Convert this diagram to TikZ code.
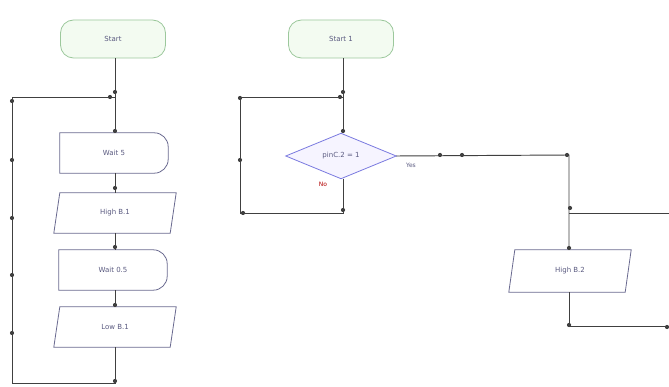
\documentclass[tikz,border=0pt]{standalone}
\usepackage{fontspec}
\setmainfont{DejaVu Sans}
\begin{document}
\begin{tikzpicture}[x=1pt,y=-1pt,
  txt/.style={font=\fontsize{7}{8}\selectfont, text=textc},
  box/.style={draw=none, minimum width=#1, minimum height=40pt, inner sep=0pt, txt},
  box/.default=108pt,
  outl/.style={draw=boxc, line width=0.8pt, fill=white},
  termst/.style={draw=termc, fill=termf, line width=0.8pt, rounded corners=13pt, minimum width=105pt, minimum height=38pt, inner sep=0pt, txt},
  wire/.style={draw=wirec, line width=0.95pt},
  dot/.style={circle, fill=wirec, inner sep=0pt, minimum size=4.2pt},
  lbl/.style={font=\fontsize{6}{7}\selectfont}
]
\definecolor{textc}{HTML}{5A5A80}
\definecolor{boxc}{HTML}{6A6A90}
\definecolor{termc}{HTML}{9CC89C}
\definecolor{termf}{HTML}{F3FBF1}
\definecolor{wirec}{HTML}{404040}
\definecolor{diac}{HTML}{7A7AE0}
\definecolor{diaf}{HTML}{F6F4FF}
\useasboundingbox[fill=white] (0,0) rectangle (669,387);

% ---------- left flow ----------
\node[termst] (start) at (113,39) {Start};
\node[box] (w5) at (114,153) {};
\node[box=116pt] (hb1) at (115,213) {};
\node[box] (w05) at (113,270) {};
\node[box=116pt] (lb1) at (115,327) {};

% delay shapes
\foreach \n in {w5,w05}{
  \draw[outl] (\n.south west) -- (\n.north west) [rounded corners=14pt] -- (\n.north east) -- (\n.south east) [sharp corners] -- cycle;
}
% parallelograms
\draw[outl] ([xshift=-3pt]hb1.south west) -- ([xshift=3pt]hb1.north west) -- ([xshift=3pt]hb1.north east) -- ([xshift=-3pt]hb1.south east) -- cycle;
\draw[outl] ([xshift=-3pt]lb1.south west) -- ([xshift=3pt]lb1.north west) -- ([xshift=3pt]lb1.north east) -- ([xshift=-3pt]lb1.south east) -- cycle;
\node[txt] at (w5) {Wait 5};
\node[txt] at (hb1) {High B.1};
\node[txt] at (w05) {Wait 0.5};
\node[txt] at (lb1) {Low B.1};

\coordinate (j1) at (115,97);
\coordinate (lt) at (12,97);
\coordinate (lb) at (12,383);
\coordinate (bb) at (115,383);
\draw[wire] (start.south -| j1) -- (w5.north -| j1);
\draw[wire] (w5.south -| j1) -- (hb1.north -| j1);
\draw[wire] (hb1.south -| j1) -- (w05.north -| j1);
\draw[wire] (w05.south -| j1) -- (lb1.north -| j1);
\draw[wire] (lb1.south -| j1) -- (bb) -- (lb) -- (lt) -- (j1);
\foreach \p in {(115,92),(110,97),(12,101),(12,160),(12,218),(12,275),(12,333),(115,381),(115,131),(115,188),(115,247),(115,305)}
  \node[dot] at \p {};

% ---------- right flow ----------
\node[termst] (start1) at (341,39) {Start 1};
\node[box=110pt, minimum height=45pt] (dec) at (341,156) {};
\draw[draw=diac, fill=diaf, line width=0.8pt] (dec.west) -- (dec.north) -- (dec.east) -- (dec.south) -- cycle;
\node[txt] at (dec) {pinC.2 = 1};
\node[lbl, text=red!70!black] (no) at (323,184) {No};
\node[lbl, text=textc] (yes) at (411,165) {Yes};

\coordinate (j2) at (343,97);
\coordinate (l2t) at (240,97);
\coordinate (l2b) at (240,213);
\coordinate (b2) at (343,213);
\draw[wire] (start1.south -| j2) -- (dec.north -| j2);
\draw[wire] (dec.south -| j2) -- (b2) -- (l2b) -- (l2t) -- (j2);

\node[box=116pt, minimum height=42pt] (hb2) at (570,271) {};
\draw[outl] ([xshift=-3pt]hb2.south west) -- ([xshift=3pt]hb2.north west) -- ([xshift=3pt]hb2.north east) -- ([xshift=-3pt]hb2.south east) -- cycle;
\node[txt] at (hb2) {High B.2};

\coordinate (c1) at (569,155);
\coordinate (c2) at (569,213);
\coordinate (r1) at (669,213);
\coordinate (c3) at (569,326);
\coordinate (r2) at (669,326);
\draw[wire] (dec.east) -- (c1) -- (hb2.north -| c1);
\draw[wire] (c2) -- (r1);
\draw[wire] (hb2.south -| c1) -- (c3) -- (r2);
\foreach \p in {(343,92),(340,97),(240,98),(240,160),(343,131),(343,210),(243,213),(440,155),(462,155),(567,155),(570,208),(569,248),(569,325),(667,327)}
  \node[dot] at \p {};
\end{tikzpicture}
\end{document}
